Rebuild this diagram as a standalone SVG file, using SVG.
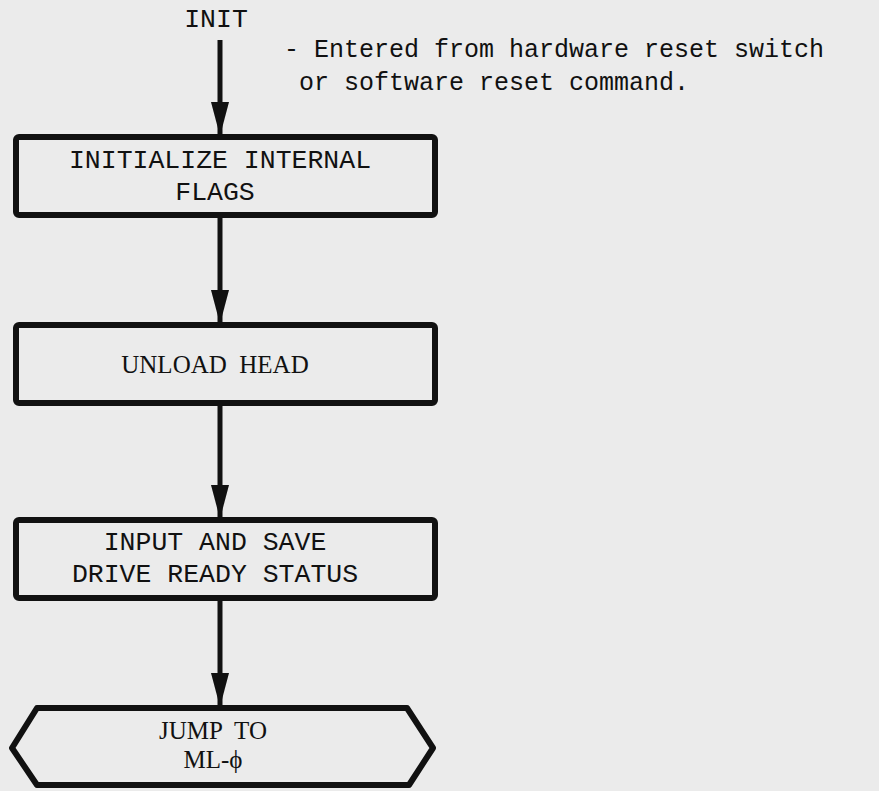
<svg xmlns="http://www.w3.org/2000/svg" width="879" height="791" viewBox="0 0 879 791">
<defs>
<style>
.bg{fill:#ebebeb}
.box{fill:none;stroke:#111;stroke-width:6;stroke-linejoin:round}
.tw{font-family:"Liberation Mono","DejaVu Sans Mono",monospace;font-size:26.5px;fill:#111}
.note{font-family:"Liberation Mono","DejaVu Sans Mono",monospace;font-size:25px;fill:#111}
.sf{font-family:"Liberation Serif","DejaVu Serif",serif;font-size:25px;fill:#111}
.conn{stroke:#111;stroke-width:5;fill:none}
</style>
<marker id="ah" markerUnits="userSpaceOnUse" markerWidth="36" markerHeight="20" refX="34" refY="10" orient="auto" viewBox="0 0 36 20">
<path d="M0,1 L34,10 L0,19 Z" fill="#111"/>
</marker>
</defs>
<rect class="bg" x="0" y="0" width="879" height="791"/>
<g id="connectors">
<line class="conn" x1="220" y1="40" x2="220" y2="136" marker-end="url(#ah)"/>
<line class="conn" x1="220" y1="215" x2="220" y2="324" marker-end="url(#ah)"/>
<line class="conn" x1="220" y1="403" x2="220" y2="519" marker-end="url(#ah)"/>
<line class="conn" x1="220" y1="598" x2="220" y2="707" marker-end="url(#ah)"/>
</g>
<g id="init">
<text class="tw" x="216" y="27" text-anchor="middle">INIT</text>
</g>
<g id="note">
<text class="note" x="284" y="57">- Entered from hardware reset switch</text>
<text class="note" x="299" y="90">or software reset command.</text>
</g>
<g id="n1">
<rect class="box" x="16" y="137" width="419" height="78" rx="3"/>
<text class="tw" x="220" y="168" text-anchor="middle">INITIALIZE INTERNAL</text>
<text class="tw" x="215" y="200" text-anchor="middle">FLAGS</text>
</g>
<g id="n2">
<rect class="box" x="16" y="325" width="419" height="78" rx="3"/>
<text class="sf" x="215" y="373" text-anchor="middle" xml:space="preserve">UNLOAD  HEAD</text>
</g>
<g id="n3">
<rect class="box" x="16" y="520" width="419" height="78" rx="3"/>
<text class="tw" x="215" y="550" text-anchor="middle">INPUT AND SAVE</text>
<text class="tw" x="215" y="582" text-anchor="middle">DRIVE READY STATUS</text>
</g>
<g id="n4">
<path class="box" d="M37,708 L407,708 L433,748 L409,785 L37,785 L12,748 Z"/>
<text class="sf" x="213" y="739" text-anchor="middle" xml:space="preserve">JUMP  TO</text>
<text class="sf" x="213" y="768" text-anchor="middle">ML-ϕ</text>
</g>
</svg>
